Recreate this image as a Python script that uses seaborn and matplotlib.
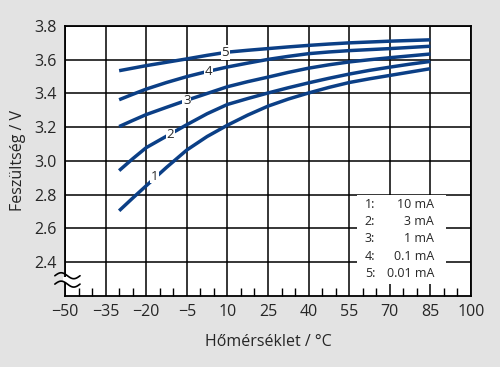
import numpy as np
import pandas as pd
import matplotlib
import matplotlib.pyplot as plt
import seaborn as sns
from matplotlib.patches import Rectangle

matplotlib.use("Agg")

# --- data ---
temps = [-30, -25, -20, -12.5, -5, 2.5, 10, 17.5, 25, 32.5, 40, 47.5, 55, 62.5, 70, 77.5, 85]
curve_1 = [2.705, 2.78, 2.853, 2.962, 3.065, 3.145, 3.212, 3.272, 3.325, 3.367, 3.403,
           3.436, 3.465, 3.487, 3.507, 3.527, 3.547]
curve_2 = [2.943, 3.013, 3.079, 3.147, 3.215, 3.28, 3.335, 3.37, 3.403, 3.434, 3.463,
           3.49, 3.515, 3.537, 3.556, 3.574, 3.59]
curve_3 = [3.204, 3.24, 3.275, 3.318, 3.36, 3.40, 3.44, 3.47, 3.497, 3.525, 3.55,
           3.57, 3.587, 3.60, 3.612, 3.623, 3.634]
curve_4 = [3.363, 3.395, 3.426, 3.465, 3.50, 3.53, 3.557, 3.58, 3.602, 3.62, 3.636,
           3.646, 3.654, 3.66, 3.666, 3.673, 3.68]
curve_5 = [3.535, 3.55, 3.565, 3.585, 3.605, 3.626, 3.645, 3.656, 3.666, 3.676, 3.685,
           3.693, 3.70, 3.705, 3.71, 3.714, 3.718]
curve_names = ["1", "2", "3", "4", "5"]
label_pos = [(-16.8, 2.91), (-11, 3.155), (-5, 3.357), (3, 3.528), (9.2, 3.643)]
currents = ["10 mA", "3 mA", "1 mA", "0.1 mA", "0.01 mA"]
x_ticks = [-50, -35, -20, -5, 10, 25, 40, 55, 70, 85, 100]
y_ticks = [2.4, 2.6, 2.8, 3.0, 3.2, 3.4, 3.6, 3.8]

bg = "#e3e3e3"
blue = "#0b3f86"

sns.set_style("white")
plt.rcParams["font.family"] = ["Open Sans", "DejaVu Sans"]
plt.rcParams["axes.unicode_minus"] = True

fig = plt.figure(figsize=(5.0, 3.67), dpi=100, facecolor=bg)
ax = fig.add_axes([0.13, 0.1935, 0.812, 0.7357])
ax.set_facecolor("white")

df = pd.DataFrame({
    "temp": temps * 5,
    "volt": curve_1 + curve_2 + curve_3 + curve_4 + curve_5,
    "curve": [n for n in curve_names for _ in temps],
})
sns.lineplot(data=df, x="temp", y="volt", hue="curve", units="curve",
             estimator=None, sort=False, palette=[blue] * 5, lw=2.5,
             legend=False, ax=ax, zorder=3)
for ln in ax.lines:
    ln.set_solid_capstyle("butt")
    ln.set_solid_joinstyle("round")

for name, (lx, ly) in zip(curve_names, label_pos):
    ax.text(lx, ly, name, fontsize=9.5, ha="center", va="center", zorder=4,
            bbox=dict(fc="white", ec="none", pad=0.5))

ax.set_xlim(-50, 100)
ax.set_ylim(2.2, 3.8)
ax.set_xticks(x_ticks)
ax.set_yticks(y_ticks)
ax.set_xticks(np.arange(-50, 101, 5), minor=True)
ax.set_xticklabels([f"{t}".replace("-", "\u2212") for t in x_ticks], fontsize=11.5)
ax.set_yticklabels([f"{v:.1f}" for v in y_ticks], fontsize=11.5)
ax.set_axisbelow(True)
ax.grid(True, which="major", color="black", lw=1.1)
ax.tick_params(axis="both", which="major", length=0, pad=6)
ax.tick_params(axis="x", which="minor", direction="in", length=5.5, width=1.0,
               color="black", bottom=True)
for s in ax.spines.values():
    s.set_color("black")
    s.set_linewidth(1.3)

# white box for the current table
ax.add_patch(Rectangle((58.0, 2.272), 32.8, 0.527, fc="white", ec="none", zorder=1))
for i, (name, cur) in enumerate(zip(curve_names, currents)):
    yy = 2.741 - 0.1015 * i
    ax.text(60.8, yy, f"{name}:", fontsize=9, ha="left", va="center", zorder=2)
    ax.text(86.4, yy, cur, fontsize=9, ha="right", va="center", zorder=2)

# axis break marks on the left spine
ax.add_patch(Rectangle((-0.006, 0.05), 0.012, 0.02, transform=ax.transAxes,
                       fc="white", ec="none", clip_on=False, zorder=5))
wx = np.linspace(-0.025, 0.037, 40)
for yb in (0.044, 0.075):
    wy = yb + 0.011 * np.sin((wx + 0.025) / 0.062 * 2 * np.pi)
    ax.plot(wx, wy, color="black", lw=1.2, transform=ax.transAxes, clip_on=False, zorder=6)

ax.set_xlabel("Hőmérséklet / °C", fontsize=11.5, labelpad=10)
ax.set_ylabel("Feszültség / V", fontsize=11.5, labelpad=6)

fig.savefig("out.png", dpi=100, facecolor=bg)
